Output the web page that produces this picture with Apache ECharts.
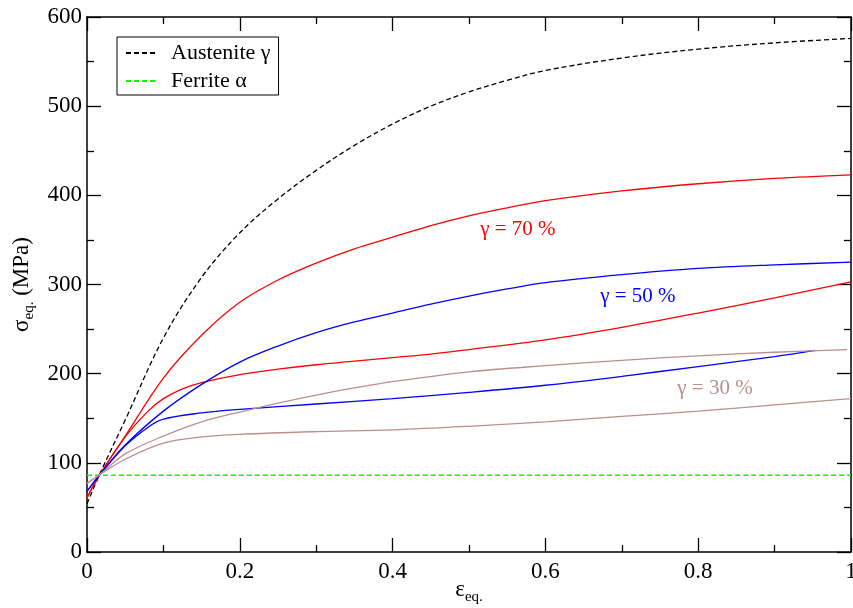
<!DOCTYPE html>
<html>
<head>
<meta charset="utf-8">
<script src="https://cdn.jsdelivr.net/npm/echarts@6/dist/echarts.min.js"></script>
<style>
html,body{margin:0;padding:0;background:#fff;}
#c{width:853px;height:608px;}
</style>
</head>
<body>
<div id="c"></div>
<script>
// ---- data ----
const austEps   = [0, 0.017, 0.05, 0.1, 0.15, 0.2, 0.25, 0.3, 0.35, 0.4, 0.45, 0.5, 0.55, 0.6, 0.7, 0.8, 0.9, 1.0];
const austSig   = [54, 88, 148, 240, 308, 358, 396, 428, 456, 480, 500, 516, 529, 540, 554, 564, 571, 576];

const ferrEps   = [0, 1.0];
const ferrSig   = [86, 86];

const r70aEps   = [0, 0.017, 0.05, 0.1, 0.15, 0.2, 0.25, 0.3, 0.35, 0.4, 0.45, 0.5, 0.55, 0.6, 0.7, 0.8, 0.9, 1.0];
const r70aSig   = [61, 87, 130, 195, 243, 280, 305, 324, 340, 353, 366, 377, 386, 394, 405, 413, 419, 423];
const r70bEps   = [0, 0.017, 0.05, 0.08, 0.1, 0.125, 0.15, 0.2, 0.25, 0.3, 0.35, 0.4, 0.45, 0.5, 0.6, 0.7, 0.8, 0.9, 1.0];
const r70bSig   = [61, 87, 129, 158, 172, 183, 190, 199, 205, 210, 214, 218, 222, 227, 238, 252, 268, 285, 303];

const b50aEps   = [0, 0.017, 0.05, 0.1, 0.15, 0.2, 0.25, 0.3, 0.35, 0.4, 0.45, 0.5, 0.55, 0.6, 0.7, 0.8, 0.9, 1.0];
const b50aSig   = [68, 87, 120, 158, 188, 213, 231, 246, 258, 268, 278, 287, 295, 302, 311, 318, 322, 325];
const b50bEps   = [0, 0.017, 0.05, 0.08, 0.1, 0.15, 0.2, 0.3, 0.4, 0.5, 0.6, 0.7, 0.8, 0.9, 0.953];
const b50bSig   = [68, 87, 119, 140, 149, 156, 160, 166, 172, 179, 187, 197, 208, 219, 226];

const br30aEps  = [0, 0.017, 0.05, 0.1, 0.15, 0.2, 0.25, 0.3, 0.35, 0.4, 0.5, 0.6, 0.7, 0.8, 0.9, 0.995];
const br30aSig  = [77, 87, 110, 130, 146, 157, 167, 176, 184, 191, 202, 209, 215, 220, 224, 227];
const br30bEps  = [0, 0.017, 0.05, 0.1, 0.15, 0.2, 0.3, 0.4, 0.5, 0.6, 0.7, 0.8, 0.9, 1.0];
const br30bSig  = [77, 87, 104, 122, 129, 132, 135, 137, 141, 146, 152, 158, 165, 172];

const xTicks = [0, 0.2, 0.4, 0.6, 0.8, 1];
const yTicks = [0, 100, 200, 300, 400, 500, 600];

const labels = [
  {text: 'γ = 70 %', eps: 0.564, sig: 362, color: '#ff0000'},
  {text: 'γ = 50 %', eps: 0.721, sig: 286, color: '#0000ff'},
  {text: 'γ = 30 %', eps: 0.822, sig: 183, color: '#bc8f8f'}
];

// ---- chart ----
const FONT = 'Liberation Serif';
const zip = (xs, ys) => xs.map((x, i) => [x, ys[i]]);

function lineSeries(name, xs, ys, color, dashed, width) {
  return {
    name: name, type: 'line', data: zip(xs, ys),
    symbol: 'none', showSymbol: false, smooth: 0.35,
    lineStyle: {color: color, width: width || 1.3, type: dashed ? [5, 3] : 'solid'},
    itemStyle: {color: color},
    z: 3
  };
}

const series = [
  lineSeries('Austenite γ', austEps, austSig, '#000000', true),
  lineSeries('Ferrite α', ferrEps, ferrSig, '#00ff00', true, 1.6),
  lineSeries('r70a', r70aEps, r70aSig, '#ff0000', false),
  lineSeries('r70b', r70bEps, r70bSig, '#ff0000', false),
  lineSeries('b50a', b50aEps, b50aSig, '#0000ff', false),
  lineSeries('b50b', b50bEps, b50bSig, '#0000ff', false),
  lineSeries('br30a', br30aEps, br30aSig, '#bc8f8f', false),
  lineSeries('br30b', br30bEps, br30bSig, '#bc8f8f', false)
];

series.push({
  type: 'line', data: [], symbol: 'none',
  markPoint: {
    symbol: 'circle', symbolSize: 0, silent: true, animation: false,
    data: labels.map(l => ({
      coord: [l.eps, l.sig],
      label: {show: true, position: 'inside', formatter: l.text, color: l.color,
              fontSize: 21, fontFamily: FONT}
    }))
  }
});

const tickStyle = {inside: true, length: 14, lineStyle: {color: '#000', width: 1.3}};
const minorStyle = {show: true, splitNumber: 2, length: 7, lineStyle: {color: '#000', width: 1.3}};
const lineAx = {show: true, onZero: false, lineStyle: {color: '#000', width: 1.5}};

const xBase = {type: 'value', min: xTicks[0], max: xTicks[xTicks.length - 1], interval: xTicks[1] - xTicks[0],
  axisLine: lineAx, axisTick: tickStyle, minorTick: minorStyle, splitLine: {show: false}};
const yBase = {type: 'value', min: yTicks[0], max: yTicks[yTicks.length - 1], interval: yTicks[1] - yTicks[0],
  axisLine: lineAx, axisTick: tickStyle, minorTick: minorStyle, splitLine: {show: false}};

const chart = echarts.init(document.getElementById('c'), null, {renderer: 'canvas'});
chart.setOption({
  animation: false,
  backgroundColor: '#fff',
  grid: {left: 87, right: 2, top: 17, bottom: 56, containLabel: false, outerBoundsMode: 'none'},
  legend: {
    data: ['Austenite γ', 'Ferrite α'],
    orient: 'vertical', left: 117, top: 37,
    borderColor: '#000', borderWidth: 1, padding: [5, 8, 3, 8],
    itemWidth: 32, itemHeight: 12, itemGap: 6,
    itemStyle: {opacity: 0},
    textStyle: {fontFamily: FONT, fontSize: 22, color: '#000', padding: [0, 0, 0, 8]},
    selectedMode: false
  },
  xAxis: [
    Object.assign({}, xBase, {position: 'bottom',
      axisLabel: {show: true, margin: 8, fontFamily: FONT, fontSize: 23, color: '#000'},
      name: '{a|ε}{s|eq.}', nameLocation: 'middle', nameGap: 22, nameMoveOverlap: false,
      nameTextStyle: {rich: {
        a: {fontFamily: FONT, fontSize: 23, color: '#000'},
        s: {fontFamily: FONT, fontSize: 15, color: '#000', padding: [16, 0, 0, 0]}
      }}}),
    Object.assign({}, xBase, {position: 'top', axisLabel: {show: false}})
  ],
  yAxis: [
    Object.assign({}, yBase, {position: 'left',
      axisLabel: {show: true, margin: 5, fontFamily: FONT, fontSize: 23, color: '#000'},
      name: '{a|σ}{s|eq.}{a| (MPa)}', nameLocation: 'middle', nameGap: 50, nameRotate: 90, nameMoveOverlap: false,
      nameTextStyle: {rich: {
        a: {fontFamily: FONT, fontSize: 23, color: '#000'},
        s: {fontFamily: FONT, fontSize: 15, color: '#000', padding: [16, 0, 0, 0]}
      }}}),
    Object.assign({}, yBase, {position: 'right', axisLabel: {show: false}})
  ],
  series: series
});
</script>
</body>
</html>
